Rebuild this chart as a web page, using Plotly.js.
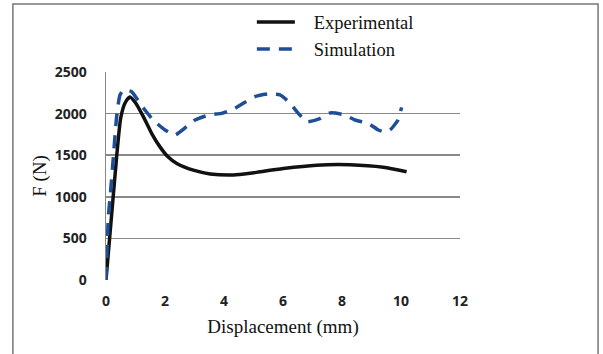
<!DOCTYPE html>
<html>
<head>
<meta charset="utf-8">
<script src="https://cdn.plot.ly/plotly-3.0.1.min.js"></script>
<style>
html,body{margin:0;padding:0;background:#fff;}
#chart{width:603px;height:354px;}
</style>
</head>
<body>
<div id="chart"></div>
<script>
// Experimental curve (displacement mm, force N)
var expX = [0, 0.36, 0.5, 0.65, 0.81, 1.0, 1.27, 1.55, 1.83, 2.1, 2.4, 2.96, 3.53, 4.32, 4.88, 5.22, 6.01, 7.14, 8.27, 9.4, 10.19];
var expY = [0, 1480, 1950, 2130, 2200, 2130, 1960, 1760, 1600, 1480, 1400, 1320, 1275, 1262, 1282, 1300, 1340, 1380, 1385, 1355, 1302];

// Simulation curve
var simX = [0, 0.08, 0.14, 0.25, 0.36, 0.47, 0.59, 0.87, 1.15, 1.32, 1.6, 2.0, 2.34, 2.73, 3.02, 3.5, 3.92, 4.32, 4.65, 5.05, 5.5, 5.9, 6.24, 6.52, 6.8, 7.25, 7.6, 8.1, 8.44, 8.89, 9.23, 9.45, 9.63, 9.9, 10.02];
var simY = [0, 760, 1000, 1480, 1960, 2220, 2285, 2263, 2124, 2043, 1923, 1803, 1743, 1843, 1923, 1985, 2003, 2052, 2124, 2203, 2236, 2224, 2124, 2003, 1903, 1940, 2008, 1983, 1923, 1883, 1803, 1780, 1803, 1923, 2075];

var seriesNames = ['Experimental', 'Simulation'];
var xTicks = [0, 2, 4, 6, 8, 10, 12];
var yTicks = [0, 500, 1000, 1500, 2000, 2500];

var serif = "'Liberation Serif', 'Times New Roman', serif";
var sans = "'Open Sans', 'Liberation Sans', Arial, sans-serif";
var pad = '\u00a0\u00a0\u00a0';

var traces = [
  {x: expX, y: expY, name: pad + seriesNames[0], mode: 'lines', type: 'scatter',
   line: {color: '#111111', width: 3.5, shape: 'spline', smoothing: 0.6}},
  {x: simX, y: simY, name: pad + seriesNames[1], mode: 'lines', type: 'scatter',
   line: {color: '#1f4e99', width: 3.5, dash: '13px,9px', shape: 'spline', smoothing: 0.5}}
];

var layout = {
  width: 603, height: 354,
  margin: {l: 106, r: 143, t: 72, b: 74, autoexpand: false},
  paper_bgcolor: '#ffffff', plot_bgcolor: '#ffffff',
  showlegend: true,
  legend: {x: 0.412, y: 1.33, xanchor: 'left', yanchor: 'top',
           font: {family: serif, size: 18.5, color: '#111'},
           bgcolor: 'rgba(0,0,0,0)', itemwidth: 38, tracegroupgap: 0},
  xaxis: {range: [0, 12], tickvals: xTicks, ticktext: xTicks.map(String),
          showgrid: false, zeroline: false, showline: false, ticks: '',
          ticklabelstandoff: 11, automargin: false,
          tickfont: {family: sans, size: 14, color: '#222', weight: 'bold'},
          title: {text: 'Displacement (mm)', font: {family: serif, size: 19, color: '#111'}, standoff: 10}},
  yaxis: {range: [0, 2500], tickvals: yTicks, ticktext: yTicks.map(String),
          showgrid: true, gridcolor: '#888888', gridwidth: 1.5, automargin: false,
          zeroline: false, showline: true, linecolor: '#888888', linewidth: 1.5, ticks: '',
          ticklabelstandoff: 15,
          tickfont: {family: sans, size: 14, color: '#222', weight: 'bold'},
          title: {text: 'F (N)', font: {family: serif, size: 19, color: '#111'}, standoff: 3}},
  shapes: [
    {type: 'rect', xref: 'paper', yref: 'paper', x0: -0.263, x1: 1.39, y0: -0.4, y1: 1.327,
     line: {color: '#777777', width: 1.5}, fillcolor: 'rgba(0,0,0,0)', layer: 'below'}
  ]
};

Plotly.newPlot('chart', traces, layout, {displayModeBar: false, staticPlot: true});
</script>
</body>
</html>
